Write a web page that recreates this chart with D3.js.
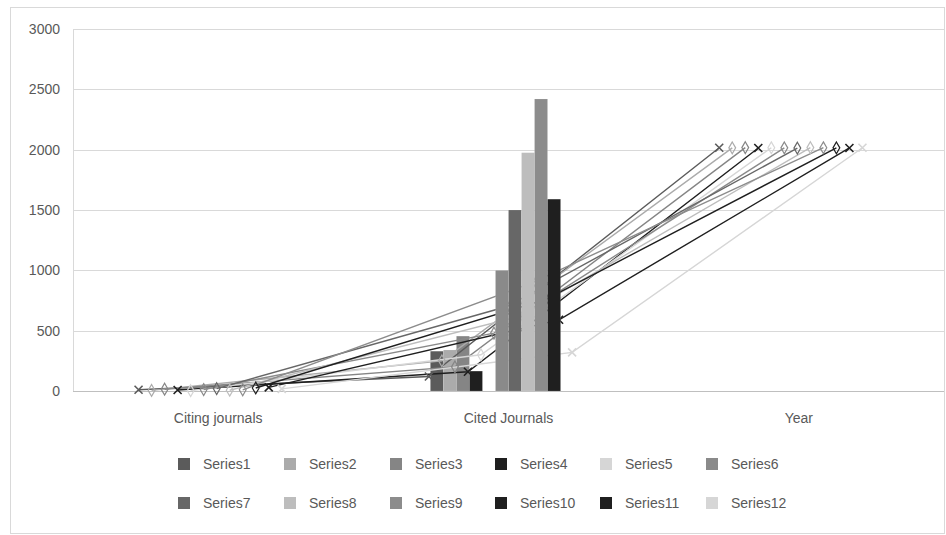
<!DOCTYPE html>
<html>
<meta charset="utf-8">
<style>
  body { margin: 0; background: #fff; }
  text { font-family: "Liberation Sans", Arial, sans-serif; fill: #595959; }
</style>
<body>
<div id="chart"></div>
<script src="https://d3js.org/d3.v7.min.js"></script>
<script>
// chart data
let categories = ["Citing journals", "Cited Journals", "Year"];
let seriesNames = ["Series1", "Series2", "Series3", "Series4", "Series5", "Series6",
                   "Series7", "Series8", "Series9", "Series10", "Series11", "Series12"];
// column values at "Cited Journals"
let barValues = [330, 340, 455, 165, 0, 1000, 1500, 1975, 2420, 1590, 0, 0];
// line values per category (one entry per series)
let citingValues = [10, 5, 15, 8, 3, 12, 20, 6, 10, 25, 30, 18];
let citedValues = [120, 250, 200, 160, 300, 480, 700, 620, 900, 760, 590, 320];
let yearValues = [2016, 2015, 2017, 2014, 2016, 2015, 2013, 2017, 2016, 2015, 2014, 2016];
let yTicks = [0, 500, 1000, 1500, 2000, 2500, 3000];

let colors = ["#5b5b5b", "#ababab", "#858585", "#1f1f1f", "#d6d6d6", "#8a8a8a",
              "#676767", "#bdbdbd", "#8c8c8c", "#1f1f1f", "#1f1f1f", "#d6d6d6"];
let markerType = ["x", "d", "d", "x", "d", "d", "d", "d", "d", "d", "x", "x"];

let totalWidth = 946, totalHeight = 535;
let margin = {top: 29, left: 73, right: 2, bottom: 144};
let lineShift = -8; // line markers sit a little left of the column centres

const svg = d3.select("#chart").append("svg")
    .attr("width", totalWidth).attr("height", totalHeight);

// outer chart border
svg.append("rect")
    .attr("x", 10.5).attr("y", 7.5)
    .attr("width", 934).attr("height", 526)
    .attr("fill", "#fff").attr("stroke", "#d9d9d9");

let x0 = d3.scaleBand()
    .domain(categories)
    .range([margin.left, totalWidth - margin.right]);

let x1 = d3.scaleBand()
    .domain(seriesNames)
    .range([0, x0.bandwidth()])
    .paddingOuter(5.15);

let y = d3.scaleLinear()
    .domain([0, 3000])
    .range([totalHeight - margin.bottom, margin.top]);

// gridlines
svg.append("g")
    .selectAll("line")
    .data(yTicks)
    .join("line")
    .attr("x1", margin.left).attr("x2", totalWidth - margin.right)
    .attr("y1", d => Math.round(y(d)) + 0.5).attr("y2", d => Math.round(y(d)) + 0.5)
    .attr("stroke", d => d === 0 ? "#bfbfbf" : "#d9d9d9");

// left axis line
svg.append("line")
    .attr("x1", margin.left + 0.5).attr("x2", margin.left + 0.5)
    .attr("y1", y(3000)).attr("y2", y(0))
    .attr("stroke", "#d9d9d9");

// y tick labels
svg.append("g")
    .selectAll("text")
    .data(yTicks)
    .join("text")
    .attr("x", 60)
    .attr("y", d => y(d))
    .attr("dy", "0.35em")
    .attr("text-anchor", "end")
    .style("font-size", "14px")
    .text(d => d);

// category labels
svg.append("g")
    .selectAll("text")
    .data(categories)
    .join("text")
    .attr("x", d => x0(d) + x0.bandwidth() / 2)
    .attr("y", 423)
    .attr("text-anchor", "middle")
    .style("font-size", "14px")
    .text(d => d);

let barData = seriesNames.map((s, i) => ({name: s, value: barValues[i], color: colors[i], idx: i}));

function drawBars(g, data) {
  g.selectAll("rect")
    .data(data)
    .join("rect")
    .attr("x", d => x0("Cited Journals") + x1(d.name))
    .attr("width", x1.bandwidth())
    .attr("y", d => y(d.value))
    .attr("height", d => y(0) - y(d.value))
    .attr("fill", d => d.color)
    .attr("stroke", "#ffffff")
    .attr("stroke-opacity", 0.25)
    .attr("stroke-width", 0.5);
}

// short columns sit under the lines, tall ones cover them
drawBars(svg.append("g"), barData.filter(d => d.idx < 5));

let lineData = seriesNames.map((s, i) => ({
  name: s, color: colors[i], marker: markerType[i],
  points: [
    {cat: categories[0], value: citingValues[i]},
    {cat: categories[1], value: citedValues[i]},
    {cat: categories[2], value: yearValues[i]}
  ]
}));

let px = (d, s) => x0(d.cat) + x1(s) + x1.bandwidth() / 2 + lineShift;

let line = d3.line();

let lineG = svg.append("g");
lineData.forEach(sr => {
  lineG.append("path")
    .attr("d", line(sr.points.map(p => [px(p, sr.name), y(p.value)])))
    .attr("fill", "none")
    .attr("stroke", sr.color)
    .attr("stroke-width", 1.4);
});

lineData.forEach(sr => {
  let mg = lineG.append("g");
  sr.points.forEach(p => {
    let cx = px(p, sr.name), cy = y(p.value);
    if (sr.marker === "x") {
      mg.append("path")
        .attr("d", `M${cx - 4},${cy - 4}L${cx + 4},${cy + 4}M${cx - 4},${cy + 4}L${cx + 4},${cy - 4}`)
        .attr("stroke", sr.color).attr("stroke-width", 1.6);
    } else {
      mg.append("path")
        .attr("d", d3.symbol(d3.symbolDiamond, 40)())
        .attr("transform", `translate(${cx},${cy})`)
        .attr("fill", "none")
        .attr("stroke", sr.color).attr("stroke-width", 1.2);
    }
  });
});

drawBars(svg.append("g"), barData.filter(d => d.idx >= 5));

// legend, 6 per row
let legendX = [178, 284, 390, 495, 600, 706];
let legendY = [464, 503];
let legend = svg.append("g")
    .selectAll("g")
    .data(seriesNames)
    .join("g")
    .attr("transform", (d, i) => `translate(${legendX[i % 6]},${legendY[Math.floor(i / 6)]})`);

legend.append("rect")
    .attr("x", 0).attr("y", -6)
    .attr("width", 12).attr("height", 12)
    .attr("fill", (d, i) => colors[i]);

legend.append("text")
    .attr("x", 25).attr("y", 0)
    .attr("dy", "0.35em")
    .style("font-size", "14px")
    .text(d => d);
</script>
</body>
</html>
